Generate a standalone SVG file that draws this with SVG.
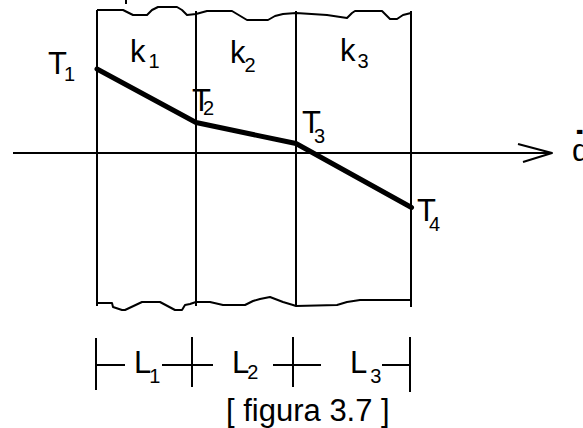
<svg xmlns="http://www.w3.org/2000/svg" width="583" height="428" viewBox="0 0 583 428">
<style>
.thin{fill:none;stroke:#000;stroke-width:2;stroke-linejoin:round}
.thick{fill:none;stroke:#000;stroke-width:5;stroke-linejoin:round;stroke-linecap:round}
.t{font-family:"Liberation Sans",Arial,sans-serif;font-size:31px;fill:#000}
.s{font-size:20px}
</style>
<rect width="583" height="428" fill="#fff"/>
<g id="wall">
<path class="thin" d="M97,10 L123,10 L133,15 L147,15 L152,10 L158,7 L177,7 L182,10 L187,15 L196,14 L207,11 L232,11 L247,20 L268,20 L275,16 L283,14 L296,13 L327,15 L347,18 L352,13 L355,11 L382,11 L390,19 L397,19 L403,15 L411,13"/>
<path class="thin" d="M96,303 L112,303 L113,307 L122,310 L125,310 L142,302 L160,302 L175,310 L182,310 L185,305 L190,304 L196,302 L210,302 L223,305 L245,305 L253,301 L260,299 L270,297 L283,302 L293,305 L296,306 L337,305 L347,302 L360,300 L411,300"/>
<line class="thin" x1="97" y1="10" x2="97" y2="306"/>
<line class="thin" x1="196" y1="11" x2="196" y2="306"/>
<line class="thin" x1="296" y1="11" x2="296" y2="306"/>
<line class="thin" x1="411" y1="11" x2="411" y2="307"/>
<line class="thin" x1="126" y1="0" x2="126" y2="4"/>
</g>
<g id="connectors">
<line class="thin" x1="13" y1="153" x2="552" y2="153"/>
<path class="thin" d="M518,144 L552,153 L523,162"/>
<polyline class="thick" points="97,69 196,122.5 296,143.5 411.5,207.5"/>
</g>
<g id="labels">
<text class="t" x="48" y="74">T<tspan class="s" dx="-3" dy="7">1</tspan></text>
<text class="t" x="130" y="62">k<tspan class="s" dx="3" dy="6">1</tspan></text>
<text class="t" x="230" y="63">k<tspan class="s" dx="-1" dy="9">2</tspan></text>
<text class="t" x="340" y="61">k<tspan class="s" dx="2" dy="7">3</tspan></text>
<text class="t" x="192" y="111">T<tspan class="s" dx="-8" dy="4">2</tspan></text>
<text class="t" x="302" y="133">T<tspan class="s" dx="-7" dy="10">3</tspan></text>
<text class="t" x="417" y="221">T<tspan class="s" dx="-7" dy="10">4</tspan></text>
<text class="t" x="572" y="161">q</text>
<text class="t" x="573" y="159" style="font-size:40px;font-weight:bold">˙</text>
</g>
<g id="dimensions">
<path class="thin" d="M96,338 V390 M96,365 H125 M162,365 H213 M192,337 V387 M273,365 H321 M293,337 V387 M382,365 H410 M410,337 V392"/>
<text class="t" x="134" y="373">L<tspan class="s" dx="-2" dy="10">1</tspan></text>
<text class="t" x="232" y="373">L<tspan class="s" dx="-2" dy="6">2</tspan></text>
<text class="t" x="350" y="373">L<tspan class="s" dx="3" dy="10">3</tspan></text>
<text class="t" x="226" y="421">[ figura 3.7 ]</text>
</g>
</svg>
